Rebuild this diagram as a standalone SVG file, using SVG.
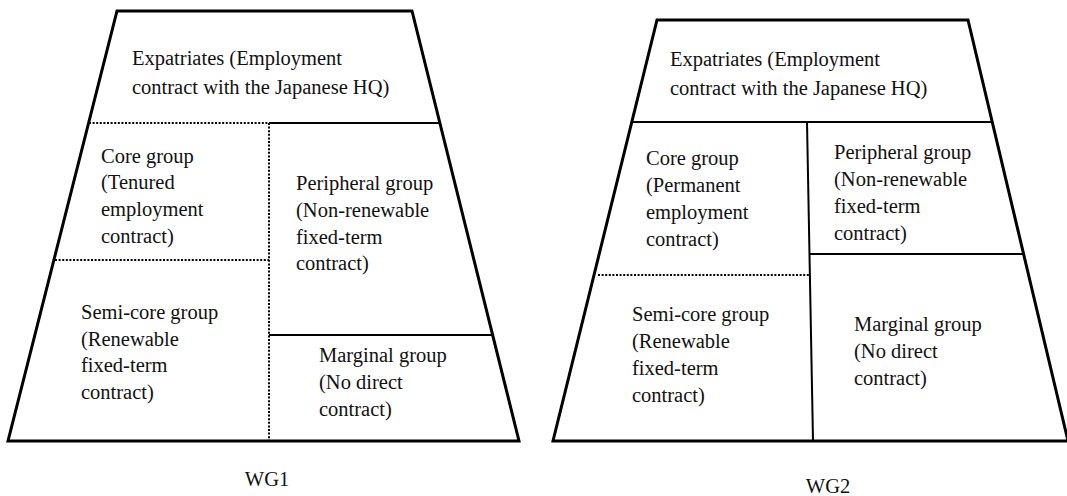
<svg xmlns="http://www.w3.org/2000/svg" width="1067" height="496" viewBox="0 0 1067 496">
<style>
.frame{fill:none;stroke:#000;stroke-width:3;stroke-linejoin:miter}
.solid{fill:none;stroke:#000;stroke-width:2}
.dot{fill:none;stroke:#000;stroke-width:2;stroke-dasharray:2 1.6}
text{font-family:"Liberation Serif","Times New Roman",serif;font-size:20.5px;fill:#111}
.cap{text-anchor:middle}
</style>
<rect width="1067" height="496" fill="#fff"/>
<!-- WG1 -->
<g id="wg1-frame">
<polygon class="frame" points="117,11 412,11 519,441 8,441"/>
</g>
<g id="wg1-lines">
<line class="dot" x1="89" y1="123" x2="269" y2="123"/>
<line class="solid" x1="269" y1="123" x2="440" y2="123"/>
<line class="dot" x1="269" y1="123" x2="269" y2="441"/>
<line class="dot" x1="55" y1="260" x2="269" y2="260"/>
<line class="solid" x1="269" y1="335" x2="492" y2="335"/>
</g>
<g id="wg1-expatriates">
<text x="132" y="65">Expatriates (Employment</text>
<text x="132" y="94">contract with the Japanese HQ)</text>
</g>
<g id="wg1-core">
<text x="101" y="163">Core group</text>
<text x="101" y="189">(Tenured</text>
<text x="101" y="216">employment</text>
<text x="101" y="243">contract)</text>
</g>
<g id="wg1-peripheral">
<text x="296" y="190">Peripheral group</text>
<text x="296" y="217">(Non-renewable</text>
<text x="296" y="244">fixed-term</text>
<text x="296" y="270">contract)</text>
</g>
<g id="wg1-semicore">
<text x="81" y="319">Semi-core group</text>
<text x="81" y="346">(Renewable</text>
<text x="81" y="372">fixed-term</text>
<text x="81" y="399">contract)</text>
</g>
<g id="wg1-marginal">
<text x="319" y="362">Marginal group</text>
<text x="319" y="389">(No direct</text>
<text x="319" y="416">contract)</text>
</g>
<g id="wg1-label"><text class="cap" x="267" y="486">WG1</text></g>
<!-- WG2 -->
<g id="wg2-frame">
<polygon class="frame" points="657,20 968,20 1068,441 553,441"/>
</g>
<g id="wg2-lines">
<line class="solid" x1="632" y1="122" x2="992" y2="122"/>
<line class="solid" x1="807" y1="122" x2="813" y2="441"/>
<line class="solid" x1="810" y1="254" x2="1023" y2="254"/>
<line class="dot" x1="598" y1="275" x2="810" y2="275"/>
</g>
<g id="wg2-expatriates">
<text x="670" y="66">Expatriates (Employment</text>
<text x="670" y="95">contract with the Japanese HQ)</text>
</g>
<g id="wg2-core">
<text x="646" y="165">Core group</text>
<text x="646" y="192">(Permanent</text>
<text x="646" y="219">employment</text>
<text x="646" y="246">contract)</text>
</g>
<g id="wg2-peripheral">
<text x="834" y="159">Peripheral group</text>
<text x="834" y="186">(Non-renewable</text>
<text x="834" y="213">fixed-term</text>
<text x="834" y="240">contract)</text>
</g>
<g id="wg2-semicore">
<text x="632" y="321">Semi-core group</text>
<text x="632" y="348">(Renewable</text>
<text x="632" y="375">fixed-term</text>
<text x="632" y="402">contract)</text>
</g>
<g id="wg2-marginal">
<text x="854" y="331">Marginal group</text>
<text x="854" y="358">(No direct</text>
<text x="854" y="385">contract)</text>
</g>
<g id="wg2-label"><text class="cap" x="828" y="493">WG2</text></g>
</svg>
